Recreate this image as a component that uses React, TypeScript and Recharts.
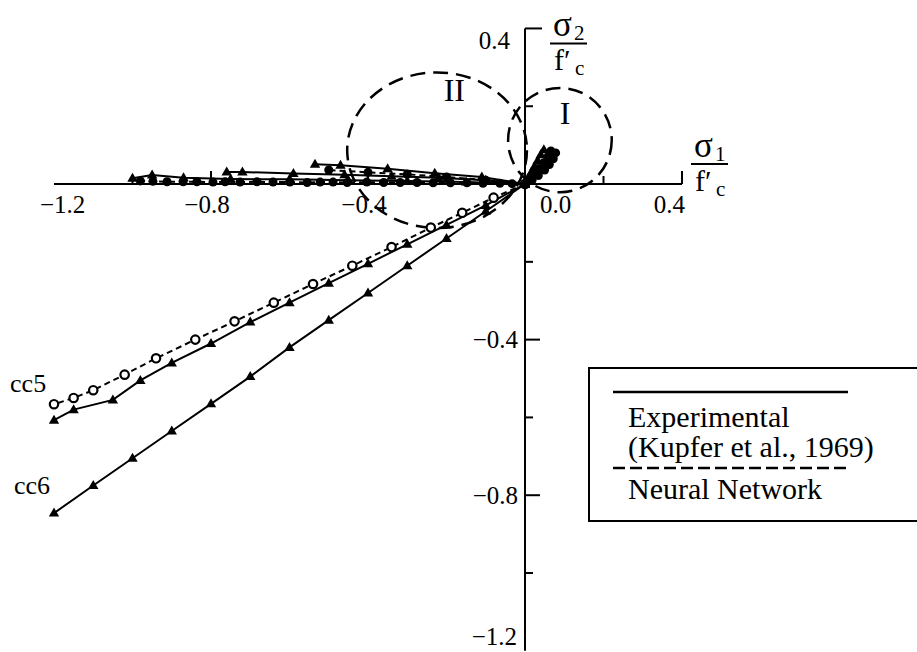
import { ScatterChart, Scatter, XAxis, YAxis, ReferenceLine, ReferenceDot, Legend } from 'recharts';

const FONT = '"Liberation Serif", "Times New Roman", Times, serif';

const W = 917;
const H = 652;
const X_DOMAIN: [number, number] = [-1.3, 0.9];
const Y_DOMAIN: [number, number] = [-1.2, 0.45];
const MARGIN = { top: 9, right: 38.75, bottom: 1.2, left: 14.75 };
// pixels per unit stress ratio, used for ellipse radii and tick lengths
const PX_X = (W - MARGIN.left - MARGIN.right) / (X_DOMAIN[1] - X_DOMAIN[0]);
const PX_Y = (H - MARGIN.top - MARGIN.bottom) / (Y_DOMAIN[1] - Y_DOMAIN[0]);

// cc6 - biaxial compression, experimental
const cc6X = [0, -0.1, -0.2, -0.3, -0.4, -0.5, -0.6, -0.7, -0.8, -0.9, -1.0, -1.1, -1.2];
const cc6Y = [0, -0.07, -0.14, -0.21, -0.28, -0.35, -0.42, -0.495, -0.565, -0.635, -0.705, -0.775, -0.846];

// cc5 - experimental and network prediction
const cc5ExpX = [0, -0.1, -0.2, -0.3, -0.4, -0.5, -0.6, -0.7, -0.8, -0.9, -0.98, -1.05, -1.15, -1.2];
const cc5ExpY = [0, -0.055, -0.105, -0.155, -0.205, -0.255, -0.305, -0.355, -0.41, -0.46, -0.505, -0.555, -0.58, -0.607];
const cc5NnX = [0, -0.08, -0.16, -0.24, -0.34, -0.44, -0.54, -0.64, -0.74, -0.84, -0.94, -1.02, -1.1, -1.15, -1.2];
const cc5NnY = [0, -0.035, -0.074, -0.112, -0.162, -0.21, -0.257, -0.305, -0.353, -0.4, -0.448, -0.49, -0.53, -0.55, -0.566];

// compression-tension paths along the sigma1 axis
const ctExpAX = [0, -0.11, -0.23, -0.35, -0.47, -0.535];
const ctExpAY = [0, 0.018, 0.028, 0.039, 0.048, 0.051];
const ctNnAX = [0, -0.1, -0.2, -0.3, -0.4, -0.5];
const ctNnAY = [0, 0.01, 0.018, 0.025, 0.03, 0.036];
const ctExpBX = [0, -0.1, -0.22, -0.34, -0.46, -0.59, -0.72, -0.76];
const ctExpBY = [0, 0.01, 0.016, 0.02, 0.024, 0.027, 0.031, 0.031];
const ctExpCX = [0, -0.15, -0.3, -0.45, -0.6, -0.75, -0.87, -0.95, -1.0];
const ctExpCY = [0, 0.005, 0.008, 0.01, 0.012, 0.013, 0.016, 0.023, 0.015];
const ctNnBX = [0, -0.033, -0.064, -0.107, -0.148, -0.19, -0.234, -0.275, -0.318, -0.36, -0.403, -0.453, -0.489, -0.522, -0.555, -0.599, -0.642, -0.683, -0.726, -0.764, -0.795, -0.836, -0.871, -0.912, -0.948, -0.98];
const ctNnBY = [0, 0.001, 0.002, 0.002, 0.003, 0.003, 0.003, 0.004, 0.004, 0.004, 0.005, 0.004, 0.005, 0.005, 0.004, 0.005, 0.005, 0.006, 0.005, 0.006, 0.005, 0.006, 0.006, 0.006, 0.007, 0.008];

// tension-tension paths (region I)
const ttExpX = [0, 0.008, 0.016, 0.024, 0.032, 0.04, 0.048];
const ttExpY = [0, 0.015, 0.03, 0.045, 0.06, 0.075, 0.088];
const ttNnX = [0, 0.012, 0.024, 0.036, 0.048, 0.058, 0.066];
const ttNnY = [0, 0.012, 0.026, 0.04, 0.055, 0.07, 0.085];
const ttExp2X = [0, 0.018, 0.034, 0.05, 0.062, 0.072, 0.078];
const ttExp2Y = [0, 0.01, 0.022, 0.036, 0.05, 0.065, 0.08];

// axis ticks and labels
const xTicks = [-1.0, -0.8, -0.6, -0.4, -0.2, 0.2, 0.4];
const yTicks = [0.4, 0.2, -0.2, -0.4, -0.6, -0.8, -1.0];
const xTickLabels = ['−1.2', '−0.8', '−0.4', '0.0', '0.4'];
const xTickValues = [-1.2, -0.8, -0.4, 0, 0.4];
const yTickLabels = ['0.4', '−0.4', '−0.8', '−1.2'];
const yTickValues = [0.4, -0.4, -0.8, -1.2];

// failure regions (center x, center y, radius x, radius y)
const regionNames = ['I', 'II'];
const regionCenters = [[0.089, 0.113], [-0.224, 0.087]];
const regionRadii = [[0.132, 0.134], [0.229, 0.2]];
const regionLabelPos = [[0.102, 0.183], [-0.18, 0.242]];

const pts = (xs: number[], ys: number[]) => xs.map((x, i) => ({ x, y: ys[i] }));

const Triangle = (p: any) => (
  <path d={`M${p.cx},${p.cy - 5.5}L${p.cx + 5.2},${p.cy + 3.5}L${p.cx - 5.2},${p.cy + 3.5}Z`} fill="#000" />
);
const Dot = (p: any) => <circle cx={p.cx} cy={p.cy} r={4.5} fill="#000" />;
const Ring = (p: any) => <circle cx={p.cx} cy={p.cy} r={4.2} fill="#fff" stroke="#000" strokeWidth={2.2} />;

const SOLID = { stroke: '#000', strokeWidth: 2 };
const DASHED = { stroke: '#000', strokeWidth: 2, strokeDasharray: '6 4' };

const series = [
  { name: 'cc6', data: pts(cc6X, cc6Y), line: SOLID, shape: Triangle },
  { name: 'cc5 exp', data: pts(cc5ExpX, cc5ExpY), line: SOLID, shape: Triangle },
  { name: 'cc5 nn', data: pts(cc5NnX, cc5NnY), line: DASHED, shape: Ring },
  { name: 'ct A exp', data: pts(ctExpAX, ctExpAY), line: SOLID, shape: Triangle },
  { name: 'ct A nn', data: pts(ctNnAX, ctNnAY), line: DASHED, shape: Dot },
  { name: 'ct B exp', data: pts(ctExpBX, ctExpBY), line: SOLID, shape: Triangle },
  { name: 'ct C exp', data: pts(ctExpCX, ctExpCY), line: SOLID, shape: Triangle },
  { name: 'ct B nn', data: pts(ctNnBX, ctNnBY), line: DASHED, shape: Dot },
  { name: 'tt exp', data: pts(ttExpX, ttExpY), line: SOLID, shape: Triangle },
  { name: 'tt nn', data: pts(ttNnX, ttNnY), line: DASHED, shape: Dot },
  { name: 'tt exp 2', data: pts(ttExp2X, ttExp2Y), line: SOLID, shape: Dot },
];

const txt = { fill: '#000', style: { fontFamily: FONT } } as const;

// sigma / f'c fraction drawn next to an axis end
const StressTitle = ({ cx, cy, sub }: { cx: number; cy: number; sub: string }) => (
  <g>
    <text x={cx} y={cy} fontSize={35} {...txt}>σ</text>
    <text x={cx + 21} y={cy + 4} fontSize={21} {...txt}>{sub}</text>
    <line x1={cx - 3} x2={cx + 34} y1={cy + 7} y2={cy + 7} stroke="#000" strokeWidth={2} />
    <text x={cx + 1} y={cy + 34} fontSize={30} {...txt}>f′</text>
    <text x={cx + 22} y={cy + 39} fontSize={21} {...txt}>c</text>
  </g>
);

const LegendBox = () => (
  <svg width={340} height={156} style={{ display: 'block' }}>
    <rect x={1} y={1} width={380} height={153} fill="#fff" stroke="#000" strokeWidth={2} />
    <line x1={25} x2={260} y1={25} y2={25} stroke="#000" strokeWidth={2.5} />
    <text x={40} y={49} fontSize={30} dominantBaseline="central" {...txt}>Experimental</text>
    <text x={40} y={79} fontSize={30} dominantBaseline="central" {...txt}>(Kupfer et al., 1969)</text>
    <line x1={25} x2={260} y1={101} y2={101} stroke="#000" strokeWidth={2.5} strokeDasharray="12 5" />
    <text x={40} y={121} fontSize={30} dominantBaseline="central" {...txt}>Neural Network</text>
  </svg>
);

export default function App() {
  return (
    <div style={{ position: 'absolute', left: 0, top: 0, width: W, height: H, overflow: 'hidden', background: '#fff' }}>
      <ScatterChart width={W} height={H} margin={MARGIN}>
        <XAxis type="number" dataKey="x" domain={X_DOMAIN} hide allowDataOverflow />
        <YAxis type="number" dataKey="y" domain={Y_DOMAIN} hide allowDataOverflow />

        {/* axes crossing at the origin */}
        <ReferenceLine segment={[{ x: -1.2, y: 0 }, { x: 0.4, y: 0 }]} stroke="#000" strokeWidth={2} ifOverflow="visible" />
        <ReferenceLine segment={[{ x: 0, y: -1.2 }, { x: 0, y: 0.4 }]} stroke="#000" strokeWidth={2} ifOverflow="visible" />
        {xTicks.map((v) => {
          const len = Math.abs(Math.round(v * 10)) % 4 === 0 ? 13 : 8;
          return (
            <ReferenceLine key={`xt${v}`} segment={[{ x: v, y: 0 }, { x: v, y: len / PX_Y }]} stroke="#000" strokeWidth={2} ifOverflow="visible" />
          );
        })}
        {yTicks.map((v) => {
          const len = v === 0.4 ? 17 : Math.abs(Math.round(v * 10)) % 4 === 0 ? 15 : 8;
          return (
            <ReferenceLine key={`yt${v}`} segment={[{ x: 0, y: v }, { x: len / PX_X, y: v }]} stroke="#000" strokeWidth={2} ifOverflow="visible" />
          );
        })}

        {xTickValues.map((v, i) => (
          <ReferenceDot
            key={`xl${v}`}
            x={v}
            y={0}
            r={0}
            ifOverflow="visible"
            shape={(p: any) => {
              let anchor: 'start' | 'middle' | 'end' = 'middle';
              let dx = -4;
              if (v === -1.2) { anchor = 'start'; dx = -14; }
              if (v === 0) { anchor = 'start'; dx = 15; }
              if (v === 0.4) { anchor = 'end'; dx = 3; }
              return (
                <text x={p.cx + dx} y={p.cy + 20} fontSize={25} textAnchor={anchor} dominantBaseline="central" {...txt}>
                  {xTickLabels[i]}
                </text>
              );
            }}
          />
        ))}
        {yTickValues.map((v, i) => (
          <ReferenceDot
            key={`yl${v}`}
            x={0}
            y={v}
            r={0}
            ifOverflow="visible"
            shape={(p: any) => {
              let dx = -7;
              let dy = 0;
              if (v === 0.4) { dx = -15; dy = 12; }
              if (v === -1.2) { dx = -8; dy = -14; }
              return (
                <text x={p.cx + dx} y={p.cy + dy} fontSize={25} textAnchor="end" dominantBaseline="central" {...txt}>
                  {yTickLabels[i]}
                </text>
              );
            }}
          />
        ))}

        {/* stress ratio titles */}
        <ReferenceDot x={0} y={0.4} r={0} ifOverflow="visible" shape={(p: any) => <StressTitle cx={p.cx + 28} cy={p.cy + 8} sub="2" />} />
        <ReferenceDot x={0.4} y={0} r={0} ifOverflow="visible" shape={(p: any) => <StressTitle cx={p.cx + 12} cy={p.cy - 27} sub="1" />} />

        {/* failure regions */}
        {regionNames.map((name, i) => (
          <ReferenceDot
            key={`reg${name}`}
            x={regionCenters[i][0]}
            y={regionCenters[i][1]}
            r={0}
            ifOverflow="visible"
            shape={(p: any) => (
              <ellipse
                cx={p.cx}
                cy={p.cy}
                rx={regionRadii[i][0] * PX_X}
                ry={regionRadii[i][1] * PX_Y}
                fill="none"
                stroke="#000"
                strokeWidth={2.5}
                strokeDasharray="15 8"
              />
            )}
          />
        ))}
        {regionNames.map((name, i) => (
          <ReferenceDot
            key={`regl${name}`}
            x={regionLabelPos[i][0]}
            y={regionLabelPos[i][1]}
            r={0}
            ifOverflow="visible"
            shape={(p: any) => (
              <text x={p.cx} y={p.cy} fontSize={32} textAnchor="middle" dominantBaseline="central" {...txt}>{name}</text>
            )}
          />
        ))}

        {/* test names */}
        <ReferenceDot x={-1.266} y={-0.512} r={0} ifOverflow="visible" shape={(p: any) => (
          <text x={p.cx} y={p.cy} fontSize={26} textAnchor="middle" dominantBaseline="central" {...txt}>cc5</text>
        )} />
        <ReferenceDot x={-1.256} y={-0.776} r={0} ifOverflow="visible" shape={(p: any) => (
          <text x={p.cx} y={p.cy} fontSize={26} textAnchor="middle" dominantBaseline="central" {...txt}>cc6</text>
        )} />

        {series.map((s) => (
          <Scatter
            key={s.name}
            name={s.name}
            data={s.data}
            fill="#000"
            line={s.line}
            lineType="joint"
            shape={s.shape}
            isAnimationActive={false}
          />
        ))}

        <Legend
          layout="horizontal"
          verticalAlign="middle"
          wrapperStyle={{ left: 588, top: 367, width: 340 }}
          content={() => <LegendBox />}
        />
      </ScatterChart>
    </div>
  );
}
